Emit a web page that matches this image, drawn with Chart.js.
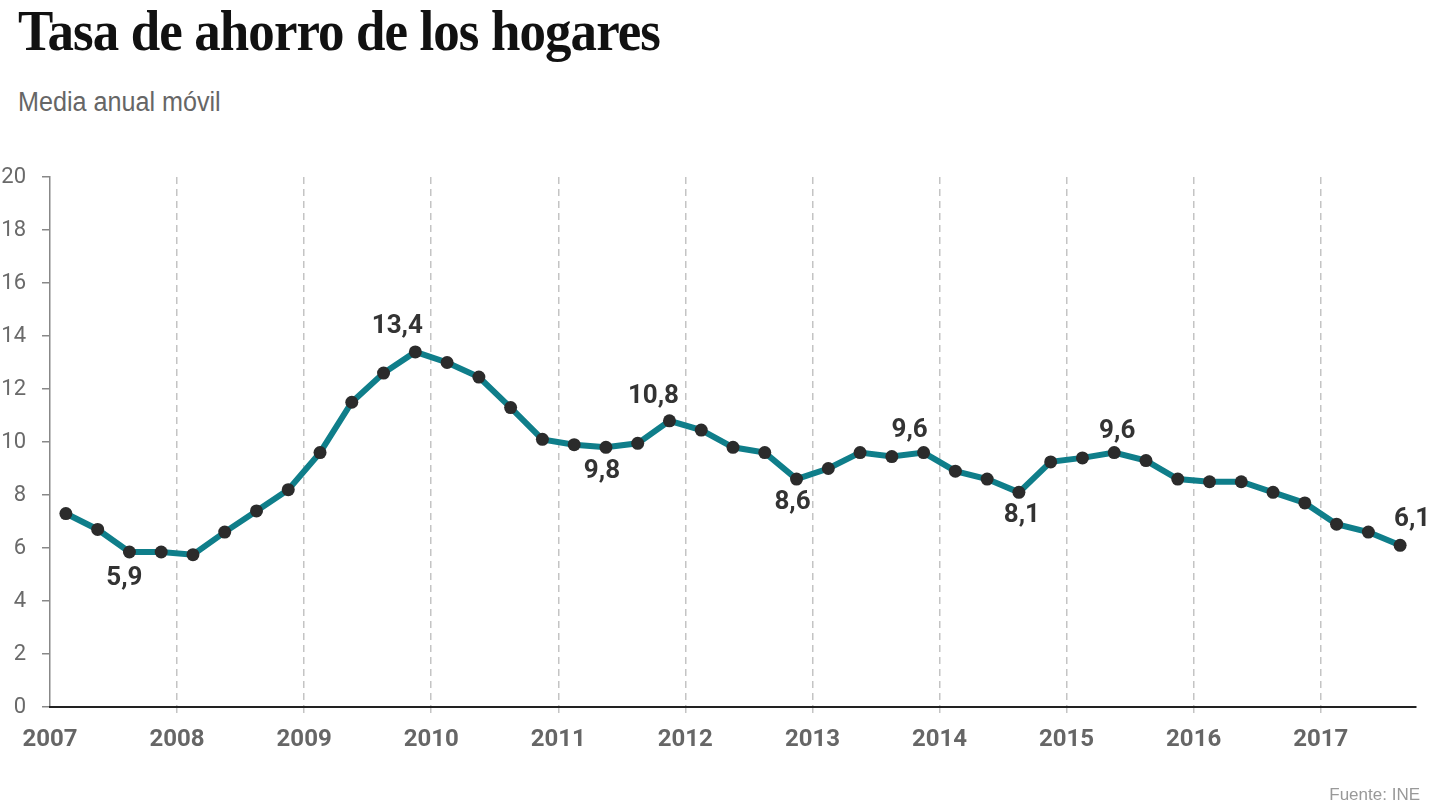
<!DOCTYPE html>
<html lang="es">
<head>
<meta charset="utf-8">
<title>Tasa de ahorro de los hogares</title>
<script src="https://cdn.jsdelivr.net/npm/chart.js@4.4.1/dist/chart.umd.min.js"></script>
<style>
  html, body { margin: 0; padding: 0; background: #fff; }
  body { width: 1440px; height: 808px; position: relative; overflow: hidden; }
  #titulo {
    position: absolute; left: 18px; top: 2px; margin: 0;
    font-family: "Liberation Serif", "DejaVu Serif", serif; font-weight: bold;
    font-size: 58px; line-height: 1; color: #111; white-space: nowrap;
    transform-origin: left top; letter-spacing: -1px;
  }
  #subtitulo {
    position: absolute; left: 18px; top: 89px; margin: 0;
    font-family: "Liberation Sans", Arial, sans-serif; font-size: 27px;
    line-height: 1; color: #666; white-space: nowrap; transform-origin: left top;
  }
  #fuente {
    position: absolute; right: 20px; top: 786px;
    font-family: "Liberation Sans", Arial, sans-serif; font-size: 17px;
    color: #999; line-height: 1;
  }
  #grafico { position: absolute; left: 0; top: 0; }
</style>
</head>
<body>
<h1 id="titulo">Tasa de ahorro de los hogares</h1>
<div id="subtitulo">Media anual móvil</div>
<canvas id="grafico" width="1440" height="808"></canvas>
<div id="fuente">Fuente: INE</div>
<script>
// Trimestres (posición = centro del trimestre)
const periodos = [
  2007.125, 2007.375, 2007.625, 2007.875,
  2008.125, 2008.375, 2008.625, 2008.875,
  2009.125, 2009.375, 2009.625, 2009.875,
  2010.125, 2010.375, 2010.625, 2010.875,
  2011.125, 2011.375, 2011.625, 2011.875,
  2012.125, 2012.375, 2012.625, 2012.875,
  2013.125, 2013.375, 2013.625, 2013.875,
  2014.125, 2014.375, 2014.625, 2014.875,
  2015.125, 2015.375, 2015.625, 2015.875,
  2016.125, 2016.375, 2016.625, 2016.875,
  2017.125, 2017.375, 2017.625
];

// Tasa de ahorro (% renta disponible)
const tasaAhorro = [
  7.3, 6.7, 5.85, 5.85,
  5.75, 6.6, 7.4, 8.2,
  9.6, 11.5, 12.6, 13.4,
  13.0, 12.45, 11.3, 10.1,
  9.9, 9.8, 9.95, 10.8,
  10.45, 9.8, 9.6, 8.6,
  9.0, 9.6, 9.45, 9.6,
  8.9, 8.6, 8.1, 9.25,
  9.4, 9.6, 9.3, 8.6,
  8.5, 8.5, 8.1, 7.7,
  6.9, 6.6, 6.1
];

// Etiquetas destacadas: índice del punto, texto y posición
const etiquetas = [
  { i: 2,  texto: '5,9',  dx: -5,  dy: 27 },
  { i: 11, texto: '13,4', dx: -18, dy: -25 },
  { i: 17, texto: '9,8',  dx: -4,  dy: 24 },
  { i: 19, texto: '10,8', dx: -16, dy: -24 },
  { i: 23, texto: '8,6',  dx: -4,  dy: 23 },
  { i: 27, texto: '9,6',  dx: -14, dy: -22 },
  { i: 30, texto: '8,1',  dx: 3,   dy: 23 },
  { i: 33, texto: '9,6',  dx: 3,   dy: -21 },
  { i: 42, texto: '6,1',  dx: 12,  dy: -26 }
];

const yTicks = [0, 2, 4, 6, 8, 10, 12, 14, 16, 18, 20];
const anios = [2007, 2008, 2009, 2010, 2011, 2012, 2013, 2014, 2015, 2016, 2017];

// ajustar el ancho de los textos al original
const t = document.getElementById('titulo');
t.style.transform = 'scaleX(' + (642 / t.offsetWidth) + ')';
const s = document.getElementById('subtitulo');
s.style.transform = 'scaleX(' + (203 / s.offsetWidth) + ')';

const etiquetasPlugin = {
  id: 'etiquetas',
  afterDatasetsDraw(chart) {
    const ctx = chart.ctx;
    const meta = chart.getDatasetMeta(0);
    ctx.save();
    ctx.font = 'bold 26px Roboto, "Liberation Sans", sans-serif';
    ctx.fillStyle = '#333';
    ctx.textAlign = 'center';
    ctx.textBaseline = 'middle';
    etiquetas.forEach(e => {
      const p = meta.data[e.i];
      ctx.fillText(e.texto, p.x + e.dx, p.y + e.dy);
    });
    ctx.restore();
  }
};

new Chart(document.getElementById('grafico'), {
  type: 'line',
  data: {
    datasets: [{
      label: 'Tasa de ahorro',
      data: periodos.map((x, k) => ({ x: x, y: tasaAhorro[k] })),
      borderColor: '#0f7e8a',
      borderWidth: 6,
      pointRadius: 6.5,
      pointBorderWidth: 0,
      pointBackgroundColor: '#2b2b2b',
      tension: 0,
      clip: false
    }]
  },
  options: {
    responsive: false,
    animation: false,
    devicePixelRatio: 1,
    layout: { padding: { top: 177, right: 24, bottom: 51, left: 0 } },
    plugins: {
      legend: { display: false },
      tooltip: { enabled: false }
    },
    scales: {
      x: {
        type: 'linear',
        min: 2007,
        max: 2017.75,
        afterFit(scale) { scale.height = 50; },
        afterBuildTicks(scale) { scale.ticks = anios.map(v => ({ value: v })); },
        ticks: {
          includeBounds: false,
          callback: v => String(v),
          color: '#666',
          padding: 13,
          font: { family: 'Roboto, "Liberation Sans", sans-serif', size: 24, weight: 'bold' }
        },
        grid: {
          color: c => (c.tick && c.tick.value === 2007) ? 'rgba(0,0,0,0)' : '#c4c4c4',
          lineWidth: 1.5,
          drawTicks: true,
          tickLength: 6
        },
        border: { display: true, color: '#222', width: 2, dash: [7, 5], z: 1 }
      },
      y: {
        min: 0,
        max: 20,
        afterFit(scale) { scale.width = 50; },
        afterBuildTicks(scale) { scale.ticks = yTicks.map(v => ({ value: v })); },
        ticks: {
          color: '#6a6a6a',
          padding: 16,
          font: { family: 'Roboto, "Liberation Sans", sans-serif', size: 22 }
        },
        grid: {
          drawOnChartArea: false,
          drawTicks: true,
          tickLength: 8,
          color: '#888',
          lineWidth: 1.5
        },
        border: { display: true, color: '#888', width: 1.5 }
      }
    }
  },
  plugins: [etiquetasPlugin]
});
</script>
</body>
</html>
